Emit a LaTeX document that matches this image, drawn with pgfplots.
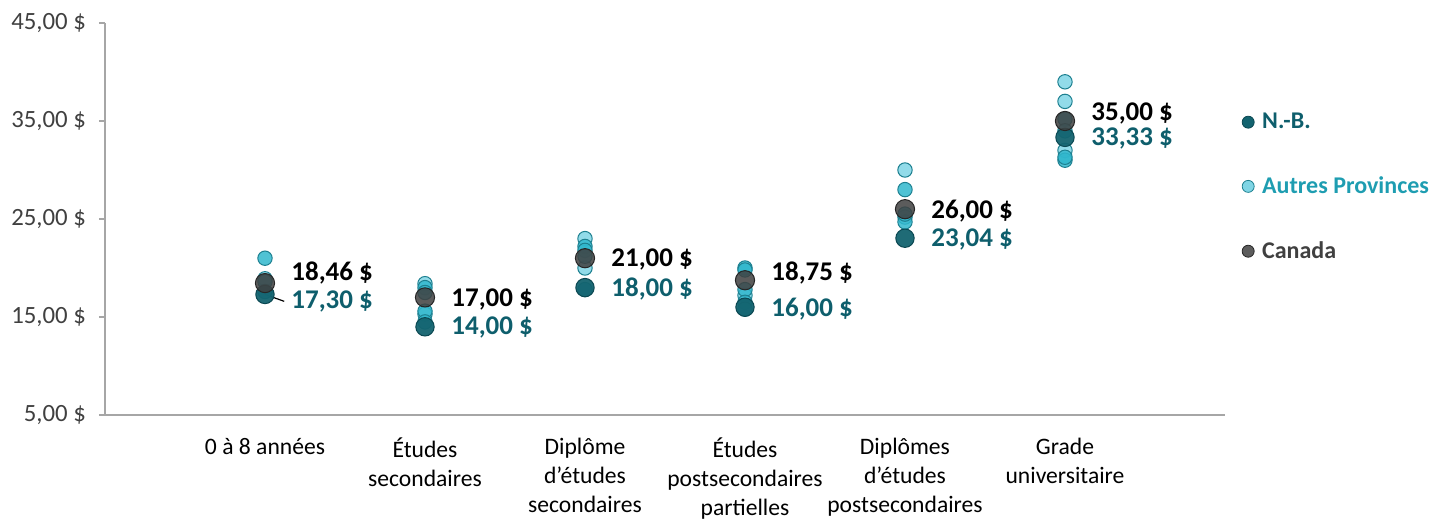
\documentclass[border=0pt]{standalone}
\usepackage{pgfplots}
\pgfplotsset{compat=1.18}
\usepackage{fontspec}
\setmainfont{Carlito}
\definecolor{nb}{HTML}{13636F}
\definecolor{nbedge}{HTML}{0B4852}
\definecolor{lightc}{HTML}{7FD5E5}
\definecolor{medc}{HTML}{30B7CD}
\definecolor{cedge}{HTML}{1D8090}
\definecolor{can}{HTML}{404040}
\definecolor{canedge}{HTML}{262626}
\definecolor{nbtext}{HTML}{0E5E6C}
\definecolor{aptext}{HTML}{1E9DB1}
\definecolor{tickc}{HTML}{404040}
\definecolor{axisc}{HTML}{A6A6A6}
\begin{document}
\begin{tikzpicture}[x=1pt,y=1pt]
\path[use as bounding box] (-52.5,-52.5) rectangle (670,207.5);
\begin{axis}[
  at={(0,0)}, anchor=south west, scale only axis,
  width=560pt, height=196pt,
  xmin=-1, xmax=6, ymin=5, ymax=45,
  axis x line*=bottom, axis y line*=left,
  axis line style={color=axisc, line width=0.6pt},
  clip=false,
  xtick={0,1,2,3,4,5},
  xticklabels={0 à 8 années, Études\\secondaires, Diplôme\\d’études\\secondaires, Études\\postsecondaires\\partielles, Diplômes\\d’études\\postsecondaires, Grade\\universitaire},
  x tick style={draw=none},
  xticklabel style={align=center, font=\fontsize{11.8}{14.4}\selectfont, text=black, yshift=-5pt},
  ytick={5,15,25,35,45},
  yticklabels={{5,00 \$}, {15,00 \$}, {25,00 \$}, {35,00 \$}, {45,00 \$}},
  y tick style={color=axisc, line width=0.6pt},
  tick align=outside, major tick length=3pt,
  yticklabel style={font=\fontsize{12.4}{14}\selectfont, text=tickc, xshift=-3pt},
  legend style={at={(1.015,0.5816)}, anchor=west, draw=none, fill=none, inner sep=0pt,
    row sep=22.5pt, font=\fontsize{12}{14}\selectfont\bfseries,
    nodes={inner sep=0pt, outer sep=0pt}},
  legend cell align=left,
  legend image code/.code={\draw[#1] plot coordinates {(3pt,0pt)};},
  /tikz/every odd column/.append style={column sep=4pt},
]
% other provinces, light
\addplot[forget plot, only marks, mark=*, mark size=3.6pt,
  mark options={fill=lightc, draw=cedge, fill opacity=0.85, line width=0.5pt}]
coordinates {
 (0,18.9) (1,18.4) (1,15.3) (2,23.0) (2,20.0) (3,17.2)
 (4,30.0) (4,25.2) (5,39.0) (5,37.0) (5,32.0)
};
% other provinces, medium
\addplot[forget plot, only marks, mark=*, mark size=3.6pt,
  mark options={fill=medc, draw=cedge, fill opacity=0.85, line width=0.5pt}]
coordinates {
 (0,21.0) (0,18.6) (0,17.6)
 (1,18.0) (1,17.5) (1,15.6) (1,14.5)
 (2,22.2) (2,21.8) (2,21.2) (2,17.8)
 (3,20.0) (3,19.8) (3,17.8) (3,16.5) (3,15.8)
 (4,28.0) (4,24.7) (4,25.5)
 (5,35.2) (5,34.0) (5,31.0) (5,31.3)
};
% leader line for first N.-B. label
\addplot[forget plot, black, line width=0.6pt] coordinates {(0,17.3) (0.12,16.6)};
% N.-B.
\addplot[forget plot, only marks, mark=*, mark size=4.6pt,
  mark options={fill=nb, draw=nbedge, fill opacity=0.95, line width=0.5pt}]
coordinates {(0,17.30) (1,14.00) (2,18.00) (3,16.00) (4,23.04) (5,33.33)};
% Canada
\addplot[forget plot, only marks, mark=*, mark size=4.8pt,
  mark options={fill=can, draw=canedge, fill opacity=0.85, line width=0.5pt}]
coordinates {(0,18.46) (1,17.00) (2,21.00) (3,18.75) (4,26.00) (5,35.00)};
% Canada labels
\addplot[forget plot, only marks, mark=none, nodes near coords, point meta=explicit symbolic,
  nodes near coords style={anchor=west, inner sep=0pt, font=\fontsize{13.5}{15}\selectfont\bfseries, text=black}]
coordinates {
 (0.1625,19.5) [18,46 \$] (1.1625,16.8) [17,00 \$] (2.1625,20.9) [21,00 \$]
 (3.1625,19.5) [18,75 \$] (4.1625,25.8) [26,00 \$] (5.1625,35.8) [35,00 \$]
};
% N.-B. labels
\addplot[forget plot, only marks, mark=none, nodes near coords, point meta=explicit symbolic,
  nodes near coords style={anchor=west, inner sep=0pt, font=\fontsize{13.5}{15}\selectfont\bfseries, text=nbtext}]
coordinates {
 (0.1625,16.6) [17,30 \$] (1.1625,13.9) [14,00 \$] (2.1625,17.9) [18,00 \$]
 (3.1625,15.8) [16,00 \$] (4.1625,22.9) [23,04 \$] (5.1625,33.2) [33,33 \$]
};
\addlegendimage{only marks, mark=*, mark size=3pt, mark options={fill=nb, draw=nbedge}}
\addlegendentry{\textcolor{nbtext}{N.-B.}}
\addlegendimage{only marks, mark=*, mark size=3pt, mark options={fill=lightc, draw=cedge}}
\addlegendentry{\textcolor{aptext}{Autres Provinces}}
\addlegendimage{only marks, mark=*, mark size=3pt, mark options={fill=can!85!white, draw=canedge}}
\addlegendentry{\textcolor{can}{Canada}}
\end{axis}
\end{tikzpicture}
\end{document}
